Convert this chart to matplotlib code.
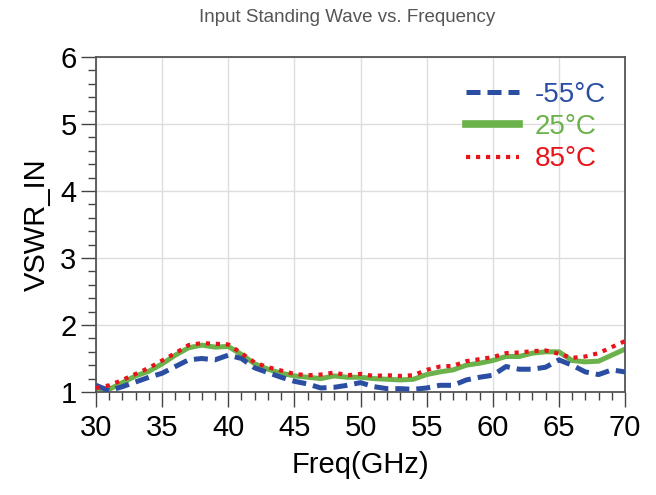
import matplotlib
matplotlib.use("Agg")
import matplotlib.pyplot as plt
from matplotlib.ticker import MultipleLocator
from matplotlib.lines import Line2D

plt.rcParams['font.family'] = ['Liberation Sans', 'DejaVu Sans']

freq = list(range(30, 71))
vswr_m55 = [1.10, 1.02, 1.08, 1.15, 1.22, 1.28, 1.38, 1.48, 1.50, 1.48,
            1.55, 1.50, 1.36, 1.29, 1.22, 1.16, 1.12, 1.06, 1.07, 1.10,
            1.14, 1.08, 1.05, 1.05, 1.04, 1.06, 1.10, 1.10, 1.18, 1.22,
            1.25, 1.38, 1.34, 1.34, 1.37, 1.48, 1.40, 1.30, 1.26, 1.33, 1.30]
vswr_25 = [1.05, 1.04, 1.14, 1.24, 1.31, 1.42, 1.55, 1.66, 1.70, 1.67,
           1.68, 1.56, 1.42, 1.34, 1.28, 1.24, 1.22, 1.20, 1.24, 1.22,
           1.22, 1.20, 1.19, 1.18, 1.19, 1.26, 1.30, 1.33, 1.40, 1.43,
           1.47, 1.53, 1.53, 1.58, 1.60, 1.60, 1.47, 1.45, 1.46, 1.55, 1.64]
vswr_85 = [1.06, 1.10, 1.18, 1.27, 1.36, 1.47, 1.58, 1.70, 1.73, 1.72,
           1.71, 1.58, 1.44, 1.37, 1.32, 1.27, 1.25, 1.26, 1.29, 1.25,
           1.27, 1.24, 1.25, 1.24, 1.25, 1.33, 1.38, 1.39, 1.46, 1.49,
           1.52, 1.58, 1.59, 1.61, 1.62, 1.57, 1.51, 1.53, 1.58, 1.67, 1.76]
labels = ['-55°C', '25°C', '85°C']
xticks = [30, 35, 40, 45, 50, 55, 60, 65, 70]
yticks = [1, 2, 3, 4, 5, 6]

c_blue = '#2b4ea3'
c_green = '#6cb24a'
c_red = '#e8141b'
blue_ls = (0, (2.8, 1.4))
red_ls = (0, (1, 1.4))

fig = plt.figure(figsize=(6.56, 4.95), dpi=100)
ax = fig.add_axes([96/656, 103/495, 529/656, 335/495])

ax.plot(freq, vswr_m55, color=c_blue, lw=3.6, ls=blue_ls, label=labels[0], zorder=3)
ax.plot(freq, vswr_25, color=c_green, lw=3.6, ls='-', label=labels[1], zorder=2)
ax.plot(freq, vswr_85, color=c_red, lw=3.0, ls=red_ls, label=labels[2], zorder=4)

ax.set_xlim(30, 70)
ax.set_ylim(1, 6)
ax.set_xticks(xticks)
ax.set_yticks(yticks)
ax.xaxis.set_minor_locator(MultipleLocator(1))
ax.yaxis.set_minor_locator(MultipleLocator(0.2))
ax.grid(True, which='major', color='#dddddd', lw=1.0)
ax.set_axisbelow(True)
for s in ax.spines.values():
    s.set_color('#555555')
    s.set_linewidth(1.3)
ax.tick_params(axis='both', which='major', length=11, width=1.0, color='#444444',
               labelsize=21, direction='out')
ax.tick_params(axis='both', which='minor', length=6, width=1.0, color='#444444', direction='out')
ax.tick_params(axis='x', which='major', pad=5)
ax.tick_params(axis='y', which='major', pad=3)
ax.tick_params(top=False, right=False, which='both')

ax.set_xlabel('Freq(GHz)', fontsize=21, labelpad=6)
ax.set_ylabel('VSWR_IN', fontsize=21, labelpad=7)

fig.text(347/656, 1 - 18/495, 'Input Standing Wave vs. Frequency', ha='center', va='center',
         fontsize=13.5, color='#555555')

h1 = Line2D([], [], color=c_blue, lw=3.6, ls=blue_ls)
h2 = Line2D([], [], color=c_green, lw=5.5, ls='-')
h3 = Line2D([], [], color=c_red, lw=3.0, ls=red_ls)
leg = ax.legend([h1, h2, h3], labels, loc='upper right', frameon=False, fontsize=20,
                handlelength=1.9, handletextpad=0.55, labelspacing=0.22,
                bbox_to_anchor=(0.995, 0.975), borderaxespad=0.2)
for t, c in zip(leg.get_texts(), [c_blue, c_green, c_red]):
    t.set_color(c)

fig.savefig('out.png', dpi=100)
